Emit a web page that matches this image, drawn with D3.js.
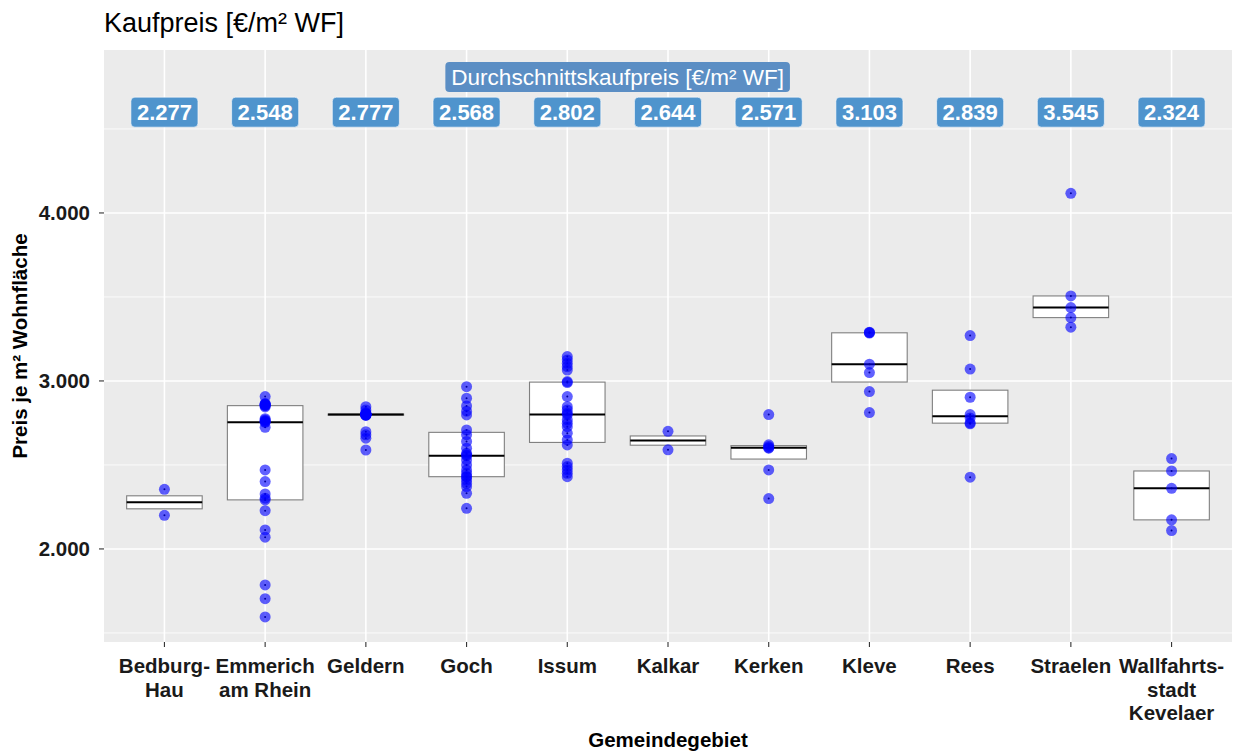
<!DOCTYPE html>
<html>
<head>
<meta charset="utf-8">
<script src="https://cdn.jsdelivr.net/npm/d3@7"></script>
<style>
  body { margin: 0; background: #fff; }
  svg { font-family: "Liberation Sans", Arial, sans-serif; }
</style>
</head>
<body>
<svg id="chart" width="1236" height="753"></svg>
<script>
'use strict';

// Gemeinden (x axis categories)
const categories = ['Bedburg-Hau', 'Emmerich am Rhein', 'Geldern', 'Goch', 'Issum', 'Kalkar',
    'Kerken', 'Kleve', 'Rees', 'Straelen', 'Wallfahrtsstadt Kevelaer'];
// tick labels as drawn (line breaks)
const tickLabels = [['Bedburg-', 'Hau'], ['Emmerich', 'am Rhein'], ['Geldern'], ['Goch'], ['Issum'],
    ['Kalkar'], ['Kerken'], ['Kleve'], ['Rees'], ['Straelen'], ['Wallfahrts-', 'stadt', 'Kevelaer']];

// single sales, price per m² living area
const priceBedburg = [2200, 2355];
const priceEmmerich = [1595, 1704, 1786, 2070, 2113, 2228, 2292, 2302, 2327, 2401, 2470, 2724,
    2754, 2758, 2762, 2768, 2775, 2845, 2853, 2855, 2858, 2860, 2862, 2865, 2907];
const priceGeldern = [2589, 2659, 2679, 2698, 2795, 2797, 2798, 2799, 2800, 2800, 2800, 2801,
    2802, 2803, 2803, 2805, 2810, 2827, 2847];
const priceGoch = [2242, 2331, 2371, 2391, 2410, 2430, 2430, 2450, 2470, 2500, 2530, 2554, 2560,
    2569, 2600, 2640, 2680, 2708, 2798, 2820, 2851, 2897, 2966];
const priceIssum = [2430, 2450, 2470, 2490, 2510, 2619, 2649, 2689, 2728, 2748, 2768, 2800, 2808,
    2827, 2847, 2907, 2990, 2996, 3065, 3085, 3105, 3125, 3145];
const priceKalkar = [2590, 2700];
const priceKerken = [2300, 2470, 2600, 2603, 2610, 2620, 2800];
const priceKleve = [2812, 2937, 3050, 3100, 3285, 3288, 3290];
const priceRees = [2427, 2745, 2750, 2780, 2800, 2903, 3071, 3270];
const priceStraelen = [3320, 3377, 3437, 3506, 4117];
const priceKevelaer = [2109, 2173, 2361, 2464, 2538];

// average purchase price labels
const avgPrice = [2277, 2548, 2777, 2568, 2802, 2644, 2571, 3103, 2839, 3545, 2324];

const yTicks = [2000, 3000, 4000];
const yMinor = [1500, 2500, 3500, 4500];
const yDomain = [1446, 4970];
const avgLabelY = 4600;
const headerY = 4810;

const series = [priceBedburg, priceEmmerich, priceGeldern, priceGoch, priceIssum, priceKalkar,
    priceKerken, priceKleve, priceRees, priceStraelen, priceKevelaer];

const de = d3.formatLocale({decimal: ',', thousands: '.', grouping: [3], currency: ['', ' €']});
const fmt = de.format(',.0f');

const svg = d3.select('#chart');
const margin = {left: 104, right: 4, top: 50, bottom: 111};
const width = +svg.attr('width');
const height = +svg.attr('height');

const x = d3.scaleBand()
    .domain(categories)
    .range([margin.left, width - margin.right])
    .paddingInner(0)
    .paddingOuter(0.1);
const y = d3.scaleLinear()
    .domain(yDomain)
    .range([height - margin.bottom, margin.top]);
const cx = d => x(d) + x.bandwidth() / 2;

// panel
svg.append('rect')
    .attr('x', margin.left).attr('y', margin.top)
    .attr('width', width - margin.left - margin.right)
    .attr('height', height - margin.top - margin.bottom)
    .attr('fill', '#ebebeb');

const grid = svg.append('g');
grid.selectAll('.minor').data(yMinor).enter().append('line')
    .attr('x1', margin.left).attr('x2', width - margin.right)
    .attr('y1', d => y(d)).attr('y2', d => y(d))
    .attr('stroke', '#fff').attr('stroke-width', 0.8);
grid.selectAll('.major').data(yTicks).enter().append('line')
    .attr('x1', margin.left).attr('x2', width - margin.right)
    .attr('y1', d => y(d)).attr('y2', d => y(d))
    .attr('stroke', '#fff').attr('stroke-width', 1.6);
grid.selectAll('.vmajor').data(categories).enter().append('line')
    .attr('x1', cx).attr('x2', cx)
    .attr('y1', margin.top).attr('y2', height - margin.bottom)
    .attr('stroke', '#fff').attr('stroke-width', 1.6);

// boxes (no whiskers)
const boxW = x.step() * 0.75;
const stats = series.map((vals, i) => {
    const s = vals.slice().sort(d3.ascending);
    return {
        cat: categories[i],
        q1: d3.quantileSorted(s, 0.25),
        med: d3.quantileSorted(s, 0.5),
        q3: d3.quantileSorted(s, 0.75)
    };
});

const boxes = svg.append('g');
boxes.selectAll('rect').data(stats).enter().append('rect')
    .attr('x', d => cx(d.cat) - boxW / 2)
    .attr('width', boxW)
    .attr('y', d => y(d.q3))
    .attr('height', d => Math.max(0.5, y(d.q1) - y(d.q3)))
    .attr('fill', '#fff')
    .attr('stroke', '#7f7f7f')
    .attr('stroke-width', 1.1);
boxes.selectAll('line').data(stats).enter().append('line')
    .attr('x1', d => cx(d.cat) - boxW / 2)
    .attr('x2', d => cx(d.cat) + boxW / 2)
    .attr('y1', d => y(d.med)).attr('y2', d => y(d.med))
    .attr('stroke', '#000').attr('stroke-width', 2);

// points
const pts = [];
series.forEach((vals, i) => vals.forEach(v => pts.push({cat: categories[i], v: v})));

svg.append('g').selectAll('circle').data(pts).enter().append('circle')
    .attr('cx', d => cx(d.cat)).attr('cy', d => y(d.v))
    .attr('r', 1).attr('fill', '#000');
svg.append('g').selectAll('circle').data(pts).enter().append('circle')
    .attr('cx', d => cx(d.cat)).attr('cy', d => y(d.v))
    .attr('r', 5.5).attr('fill', '#0000ff').attr('fill-opacity', 0.62);

// average labels
const labels = svg.append('g').selectAll('g').data(avgPrice).enter().append('g')
    .attr('transform', (d, i) => `translate(${cx(categories[i])},${y(avgLabelY)})`);
labels.append('text')
    .attr('text-anchor', 'middle')
    .attr('dy', '0.36em')
    .attr('fill', '#fff')
    .attr('font-weight', 'bold')
    .attr('font-size', 22)
    .text(d => fmt(d));
labels.each(function() {
    const g = d3.select(this);
    const w = g.select('text').node().getComputedTextLength() + 12;
    g.insert('rect', 'text')
        .attr('x', -w / 2).attr('y', -15)
        .attr('width', w).attr('height', 30)
        .attr('rx', 4)
        .attr('fill', '#4f94cd')
        .attr('stroke', '#fff').attr('stroke-width', 0.6);
});

// header label sits between Issum and Kalkar
const headerX = (cx(categories[4]) + cx(categories[5])) / 2;
const header = svg.append('g')
    .attr('transform', `translate(${headerX},${y(headerY)})`);
const headerText = header.append('text')
    .attr('text-anchor', 'middle')
    .attr('dy', '0.36em')
    .attr('fill', '#fff')
    .attr('font-size', 22.5)
    .text('Durchschnittskaufpreis [€/m² WF]');
const hw = headerText.node().getComputedTextLength() + 12;
header.insert('rect', 'text')
    .attr('x', -hw / 2).attr('y', -15)
    .attr('width', hw).attr('height', 30)
    .attr('rx', 4)
    .attr('fill', '#5b8ec4');

// y axis
const yAxis = svg.append('g');
yAxis.selectAll('line').data(yTicks).enter().append('line')
    .attr('x1', margin.left - 5).attr('x2', margin.left)
    .attr('y1', d => y(d)).attr('y2', d => y(d))
    .attr('stroke', '#333').attr('stroke-width', 1.1);
yAxis.selectAll('text').data(yTicks).enter().append('text')
    .attr('x', margin.left - 14).attr('y', d => y(d))
    .attr('dy', '0.36em')
    .attr('text-anchor', 'end')
    .attr('font-weight', 'bold').attr('font-size', 20.5)
    .attr('fill', '#1a1a1a')
    .text(d => fmt(d));

// x axis
const xAxis = svg.append('g');
const baseY = height - margin.bottom;
xAxis.selectAll('line').data(categories).enter().append('line')
    .attr('x1', cx).attr('x2', cx)
    .attr('y1', baseY).attr('y2', baseY + 5)
    .attr('stroke', '#333').attr('stroke-width', 1.1);
xAxis.selectAll('text').data(categories).enter().append('text')
    .attr('x', cx).attr('y', baseY + 31)
    .attr('text-anchor', 'middle')
    .attr('font-weight', 'bold').attr('font-size', 20.5)
    .attr('fill', '#1a1a1a')
    .each(function(d, i) {
        const t = d3.select(this);
        tickLabels[i].forEach((line, j) => {
            t.append('tspan').attr('x', cx(d)).attr('dy', j === 0 ? 0 : 23.5).text(line);
        });
    });

// titles
svg.append('text')
    .attr('x', (margin.left + width - margin.right) / 2).attr('y', 747)
    .attr('text-anchor', 'middle')
    .attr('font-weight', 'bold').attr('font-size', 20.5)
    .text('Gemeindegebiet');
svg.append('text')
    .attr('transform', `translate(27,${(margin.top + baseY) / 2}) rotate(-90)`)
    .attr('text-anchor', 'middle')
    .attr('font-weight', 'bold').attr('font-size', 20.5)
    .text('Preis je m² Wohnfläche');
svg.append('text')
    .attr('x', margin.left).attr('y', 32)
    .attr('font-size', 27)
    .text('Kaufpreis [€/m² WF]');
</script>
</body>
</html>
